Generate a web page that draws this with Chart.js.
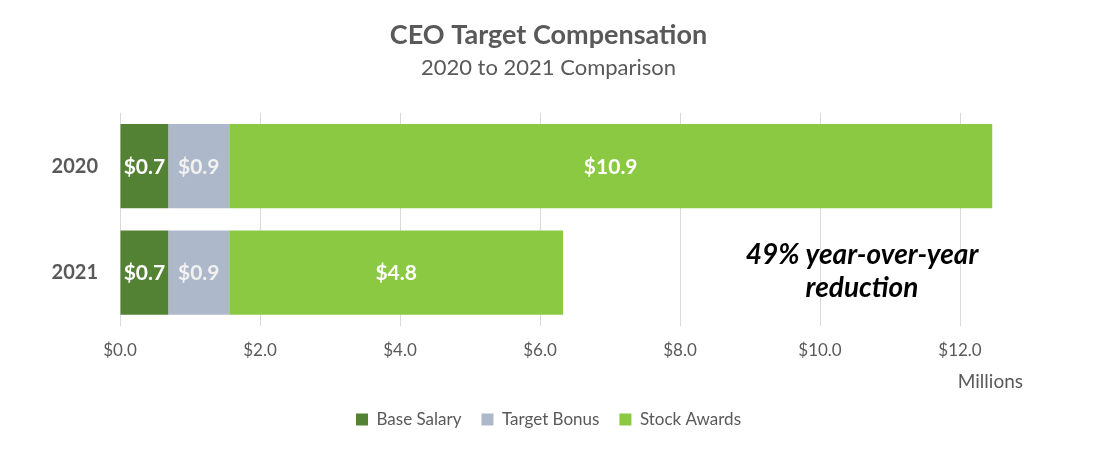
<!DOCTYPE html>
<html>
<head>
<meta charset="utf-8">
<script src="https://cdn.jsdelivr.net/npm/chart.js@4.4.1/dist/chart.umd.min.js"></script>
<style>
  html, body { margin: 0; padding: 0; background: #ffffff; }
  #wrap { position: relative; width: 1097px; height: 449px; }
</style>
</head>
<body>
<div id="wrap"><canvas id="c" width="1097" height="449"></canvas></div>
<script>
// ---- Data ----
const categories = ['2020', '2021'];
const seriesNames = ['Base Salary', 'Target Bonus', 'Stock Awards'];
const baseSalary = [0.69, 0.69];
const targetBonus = [0.87, 0.87];
const stockAwards = [10.9, 4.77];
const xTickValues = [0, 2, 4, 6, 8, 10, 12];
const titleText = 'CEO Target Compensation';
const subtitleText = '2020 to 2021 Comparison';
const unitText = 'Millions';
const noteLines = ['49% year-over-year', 'reduction'];

const FONT = 'Lato, "Open Sans", sans-serif';
const GRAY = '#595959';
const colors = ['#548235', '#ADB9CA', '#8BC943'];

const labelPlugin = {
  id: 'segLabels',
  afterDatasetsDraw(chart) {
    const ctx = chart.ctx;
    ctx.save();
    ctx.font = 'bold 21px ' + FONT;
    ctx.textAlign = 'center';
    ctx.textBaseline = 'middle';
    chart.data.datasets.forEach((ds, di) => {
      const meta = chart.getDatasetMeta(di);
      meta.data.forEach((bar, i) => {
        const v = ds.data[i];
        const cx = (bar.x + bar.base) / 2;
        ctx.fillStyle = di === 1 ? '#F2F2F2' : '#FFFFFF';
        ctx.fillText('$' + v.toFixed(1), cx, bar.y + 1);
      });
    });
    ctx.restore();
  }
};

const extrasPlugin = {
  id: 'extras',
  afterDraw(chart) {
    const ctx = chart.ctx;
    const xs = chart.scales.x;
    const ys = chart.scales.y;
    ctx.save();
    // unit label
    ctx.font = '19px ' + FONT;
    ctx.fillStyle = GRAY;
    ctx.textAlign = 'right';
    ctx.textBaseline = 'middle';
    ctx.fillText(unitText, xs.right + 28, xs.top + 56);
    // note
    ctx.font = 'italic bold 28px ' + FONT;
    ctx.fillStyle = '#000000';
    ctx.textAlign = 'center';
    const cx = xs.getPixelForValue(10.6);
    const y1 = ys.getPixelForValue(1) - 18;
    ctx.fillText(noteLines[0], cx, y1);
    ctx.fillText(noteLines[1], cx, y1 + 33);
    ctx.restore();
  }
};

new Chart(document.getElementById('c'), {
  type: 'bar',
  data: {
    labels: categories,
    datasets: [
      { label: seriesNames[0], data: baseSalary, backgroundColor: colors[0] },
      { label: seriesNames[1], data: targetBonus, backgroundColor: colors[1] },
      { label: seriesNames[2], data: stockAwards, backgroundColor: colors[2] }
    ]
  },
  options: {
    indexAxis: 'y',
    responsive: false,
    animation: false,
    devicePixelRatio: 1,
    barPercentage: 0.79,
    categoryPercentage: 1,
    layout: { padding: { left: 0, right: 0, top: 0, bottom: 11 } },
    plugins: {
      title: {
        display: true, text: titleText, color: GRAY,
        font: { family: FONT, size: 27, weight: 'bold' },
        padding: { top: 19, bottom: 0 }
      },
      subtitle: {
        display: true, text: subtitleText, color: GRAY,
        font: { family: FONT, size: 22, weight: 'normal' },
        padding: { top: 3, bottom: 32 }
      },
      legend: {
        position: 'bottom',
        labels: {
          color: GRAY, boxWidth: 12, boxHeight: 12, padding: 20,
          font: { family: FONT, size: 17 }
        }
      },
      tooltip: { enabled: false }
    },
    scales: {
      x: {
        stacked: true,
        min: 0, max: 12.5,
        afterBuildTicks(scale) {
          scale.ticks = xTickValues.map(v => ({ value: v }));
        },
        afterFit(scale) { scale.height = 65; },
        ticks: {
          color: GRAY, padding: 14,
          font: { family: FONT, size: 17 },
          callback: v => '$' + Number(v).toFixed(1)
        },
        grid: { color: '#D9D9D9', lineWidth: 1, drawTicks: false },
        border: { display: false }
      },
      y: {
        stacked: true,
        afterFit(scale) { scale.width = 120; },
        ticks: {
          color: GRAY, padding: 22,
          font: { family: FONT, size: 20, weight: 'bold' }
        },
        grid: { display: false, drawTicks: false },
        border: { display: false }
      },
      yRight: {
        type: 'category',
        axis: 'y',
        position: 'right',
        labels: categories,
        afterFit(scale) { scale.width = 102; },
        ticks: { display: false },
        grid: { display: false, drawTicks: false },
        border: { display: false }
      }
    }
  },
  plugins: [labelPlugin, extrasPlugin]
});
</script>
</body>
</html>
